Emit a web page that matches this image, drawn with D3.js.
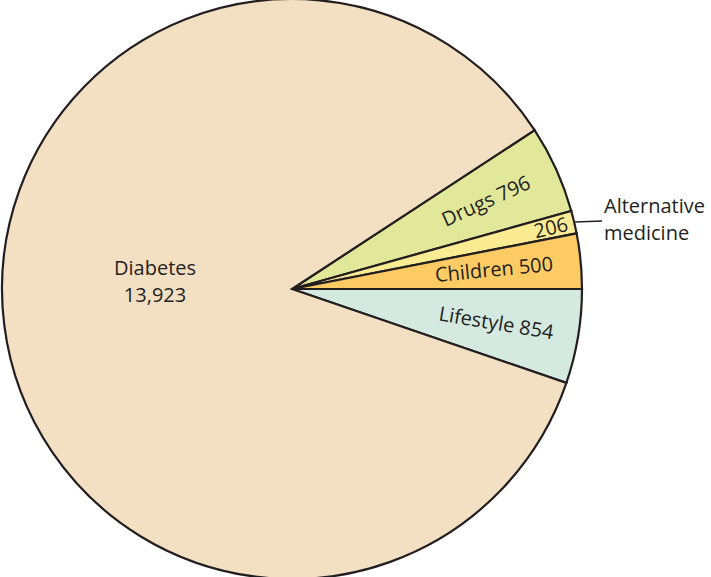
<!DOCTYPE html>
<html>
<head>
<meta charset="utf-8">
<script src="https://cdn.jsdelivr.net/npm/d3@7"></script>
<style>
  html, body { margin: 0; padding: 0; background: #fff; }
  svg { display: block; }
  text { font-family: "Open Sans", "Noto Sans", sans-serif; fill: #231f20; }
</style>
</head>
<body>
<svg id="chart" width="711" height="577"></svg>
<script>
// Slices in drawing order, clockwise from the upper edge of "Drugs"
const categories = ["Drugs", "Alternative medicine", "Children", "Lifestyle", "Diabetes"];
const values = [796, 206, 500, 854, 13923];
const colors = ["#e2e899", "#fbeb93", "#fdcb63", "#d4e9df", "#f3dfc2"];

const width = 711, height = 577;
const cx = 292, cy = 289, radius = 290;
const fontSize = 20;

const svg = d3.select("#chart");
const g = svg.append("g").attr("transform", `translate(${cx},${cy})`);

const total = d3.sum(values);
// Start so that the Children / Lifestyle boundary sits on the horizontal (3 o'clock)
const before = values[0] + values[1] + values[2];
const start = Math.PI / 2 - (before / total) * 2 * Math.PI;

const pie = d3.pie().sort(null).value(d => d.value)
  .startAngle(start).endAngle(start + 2 * Math.PI);
const data = pie(categories.map((c, i) => ({ name: c, value: values[i], color: colors[i] })));

const arc = d3.arc().innerRadius(0).outerRadius(radius);

g.selectAll("path.slice").data(data).join("path")
  .attr("class", "slice")
  .attr("d", arc)
  .attr("fill", d => d.data.color)
  .attr("stroke", "#231f20")
  .attr("stroke-width", 2.2)
  .attr("stroke-linejoin", "miter");

const fmt = d3.format(",");
const midAngle = d => (d.startAngle + d.endAngle) / 2;
const deg = a => a * 180 / Math.PI;

// In-slice labels for the small slices, rotated along the slice's mid-angle
const labelRadius = { "Drugs": 213, "Alternative medicine": 266, "Children": 203, "Lifestyle": 207 };
const labelText = d => d.data.name === "Alternative medicine" ? fmt(d.data.value) : `${d.data.name} ${fmt(d.data.value)}`;

data.filter(d => d.data.name !== "Diabetes").forEach(d => {
  const a = midAngle(d);
  const r = labelRadius[d.data.name];
  const x = Math.sin(a) * r, y = -Math.cos(a) * r;
  g.append("text")
    .attr("transform", `translate(${x},${y}) rotate(${deg(a) - 90})`)
    .attr("text-anchor", "middle")
    .attr("dy", "0.35em")
    .attr("font-size", fontSize)
    .text(labelText(d));
});

// Diabetes label
const diab = data.find(d => d.data.name === "Diabetes");
const dl = g.append("text")
  .attr("x", 155 - cx)
  .attr("y", 275 - cy)
  .attr("text-anchor", "middle")
  .attr("font-size", fontSize);
dl.append("tspan").attr("x", 155 - cx).text(diab.data.name);
dl.append("tspan").attr("x", 155 - cx).attr("dy", 27).text(fmt(diab.data.value));

// External label for Alternative medicine with a leader line from the rim
const alt = data.find(d => d.data.name === "Alternative medicine");
const aa = midAngle(alt);
const p0 = [Math.sin(aa) * (radius + 1), -Math.cos(aa) * (radius + 1)];
const p1 = [602 - cx, 221 - cy];
g.append("line")
  .attr("x1", p0[0]).attr("y1", p0[1])
  .attr("x2", p1[0]).attr("y2", p1[1])
  .attr("stroke", "#231f20").attr("stroke-width", 1.5);
const at = g.append("text")
  .attr("x", 604 - cx)
  .attr("y", 213 - cy)
  .attr("font-size", fontSize);
at.append("tspan").attr("x", 604 - cx).text("Alternative");
at.append("tspan").attr("x", 604 - cx).attr("dy", 27).text("medicine");
</script>
</body>
</html>
